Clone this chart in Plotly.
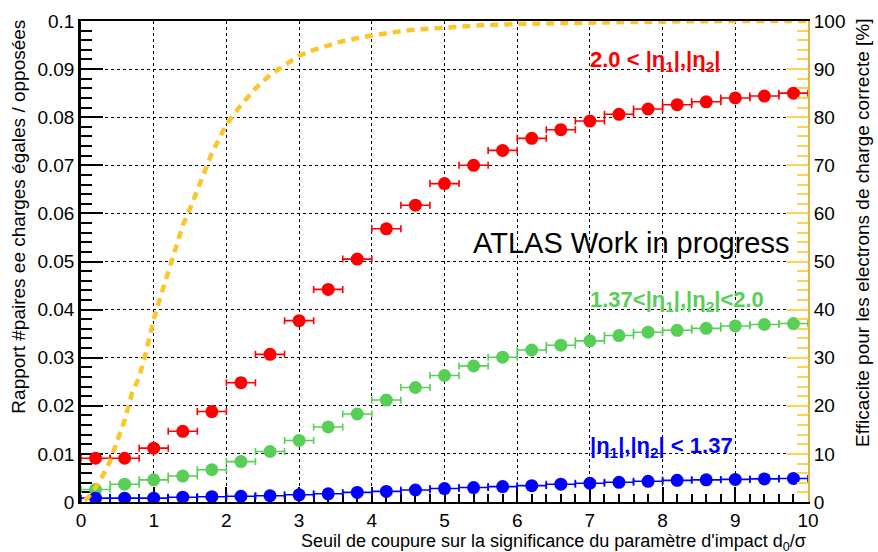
import plotly.graph_objects as go

# Cut threshold on d0/sigma (bin centres, bin half-width)
cut_centres = [0.2, 0.6, 1.0, 1.4, 1.8, 2.2, 2.6, 3.0, 3.4, 3.8, 4.2, 4.6, 5.0,
               5.4, 5.8, 6.2, 6.6, 7.0, 7.4, 7.8, 8.2, 8.6, 9.0, 9.4, 9.8]
cut_halfwidth = [0.2] * len(cut_centres)

# Same-sign / opposite-sign ee pair ratio per |eta| region
ratio_forward = [0.0091, 0.0091, 0.0112, 0.0147, 0.0188, 0.0248, 0.0307, 0.0377,
                 0.0442, 0.0505, 0.0568, 0.0617, 0.0662, 0.0700, 0.0731, 0.0756,
                 0.0774, 0.0792, 0.0806, 0.0817, 0.0826, 0.0832, 0.0840, 0.0844,
                 0.0850]
ratio_endcap = [0.0026, 0.0037, 0.0046, 0.0054, 0.0067, 0.0084, 0.0105, 0.0128,
                0.0156, 0.0183, 0.0212, 0.0238, 0.0263, 0.0283, 0.0301, 0.0316,
                0.0326, 0.0335, 0.0346, 0.0353, 0.0357, 0.0361, 0.0366, 0.0369,
                0.0371]
ratio_barrel = [0.0008, 0.0008, 0.0008, 0.0010, 0.0011, 0.0012, 0.0013, 0.0015,
                0.0017, 0.0020, 0.0022, 0.0025, 0.0028, 0.0030, 0.0032, 0.0034,
                0.0037, 0.0039, 0.0041, 0.0043, 0.0045, 0.0046, 0.0047, 0.0048,
                0.0049]

# Correct-charge electron efficiency [%] vs cut
eff_cut = [0.05, 0.1, 0.2, 0.3, 0.4, 0.5, 0.6, 0.7, 0.8, 0.9, 1.0, 1.1, 1.2, 1.3,
           1.4, 1.5, 1.6, 1.7, 1.8, 1.9, 2.0, 2.2, 2.4, 2.6, 2.8, 3.0, 3.2, 3.4,
           3.6, 3.8, 4.0, 4.5, 5.0, 5.5, 6.0, 7.0, 8.0, 9.0, 10.0]
eff_value = [0.3, 1.0, 3.0, 5.5, 8.5, 12.5, 17.0, 22.5, 26.0, 31.5, 38.0, 43.0,
             48.0, 53.0, 57.5, 61.0, 65.0, 69.0, 72.5, 75.5, 78.5, 82.5, 86.0,
             88.8, 90.8, 92.8, 94.0, 95.0, 95.8, 96.4, 97.0, 98.1, 98.7, 99.1,
             99.4, 99.7, 99.9, 100.0, 100.0]

FONT = "Liberation Sans, Arial, Helvetica, sans-serif"
RED, GREEN, BLUE, GOLD = "#ff0000", "#57cf57", "#0000ff", "#fcc52c"

fig = go.Figure()


def add_ratio(values, colour):
    fig.add_trace(go.Scatter(
        x=cut_centres, y=values, mode="markers",
        marker=dict(symbol="circle", size=13, color=colour),
        error_x=dict(type="data", array=cut_halfwidth, color=colour,
                     thickness=1.6, width=3.5),
        showlegend=False, yaxis="y"))


add_ratio(ratio_forward, RED)
add_ratio(ratio_endcap, GREEN)
add_ratio(ratio_barrel, BLUE)

fig.add_trace(go.Scatter(
    x=eff_cut, y=eff_value, mode="lines",
    line=dict(color=GOLD, width=4.5, dash="8px,6px"),
    showlegend=False, yaxis="y2"))

TICK_FONT = dict(size=19)

fig.update_layout(
    width=878, height=552,
    margin=dict(l=81, r=70, t=11, b=50),
    plot_bgcolor="white", paper_bgcolor="white",
    font=dict(family=FONT, size=19, color="black"),
    xaxis=dict(
        range=[0, 10], dtick=1, tick0=0,
        showline=True, linecolor="black", linewidth=2, mirror=True,
        ticks="inside", ticklen=15, tickwidth=1.5, tickcolor="black",
        minor=dict(dtick=0.2, ticks="inside", ticklen=8, tickcolor="black",
                   showgrid=False),
        showgrid=True, gridcolor="black", griddash="dot", gridwidth=1,
        zeroline=False, layer="below traces",
        tickfont=TICK_FONT, ticklabelstandoff=0,
    ),
    yaxis=dict(
        range=[0, 0.1], dtick=0.01, tick0=0,
        showline=True, linecolor="black", linewidth=2.5,
        ticks="inside", ticklen=22, tickwidth=1.5, tickcolor="black",
        minor=dict(dtick=0.002, ticks="inside", ticklen=11, tickcolor="black",
                   showgrid=False),
        showgrid=True, gridcolor="black", griddash="dot", gridwidth=1,
        zeroline=False, layer="below traces",
        tickfont=TICK_FONT,
    ),
    yaxis2=dict(
        range=[0, 100], dtick=10, tick0=0, overlaying="y", side="right",
        showline=True, linecolor="#e2b43a", linewidth=2,
        ticks="inside", ticklen=21, tickwidth=1.5, tickcolor="#ffd24f",
        minor=dict(dtick=2, ticks="inside", ticklen=11, tickcolor="#ffd24f",
                   showgrid=False),
        showgrid=False, zeroline=False,
        tickfont=TICK_FONT,
    ),
)

annotations = [
    # axis titles, aligned to the far end of each axis
    dict(text="Seuil de coupure sur la significance du paramètre d'impact "
              "d<sub>0</sub>/σ",
         xref="paper", yref="paper", x=1.0, y=-0.057,
         xanchor="right", yanchor="top", font=dict(size=18)),
    dict(text="Rapport #paires ee charges égales / opposées",
         xref="paper", yref="paper", x=-0.086, y=1.008, textangle=-90,
         xanchor="center", yanchor="top", font=dict(size=19)),
    dict(text="Efficacite pour les electrons de charge correcte [%]",
         xref="paper", yref="paper", x=1.074, y=1.008, textangle=-90,
         xanchor="center", yanchor="top", font=dict(size=19)),
    # labels
    dict(text="ATLAS Work in progress", xref="x", yref="y",
         x=5.36, y=0.0538, xanchor="left", yanchor="middle",
         font=dict(size=29, color="black")),
    dict(text="<b>2.0 < |η<sub>1</sub>|,|η<sub>2</sub>|</b>", xref="x", yref="y",
         x=6.98, y=0.0917, xanchor="left", yanchor="middle",
         font=dict(size=22, color=RED)),
    dict(text="<b>1.37<|η<sub>1</sub>|,|η<sub>2</sub>|<2.0</b>", xref="x", yref="y",
         x=6.98, y=0.0417, xanchor="left", yanchor="middle",
         font=dict(size=22, color=GREEN)),
    dict(text="<b>|η<sub>1</sub>|,|η<sub>2</sub>| < 1.37</b>", xref="x", yref="y",
         x=6.98, y=0.0114, xanchor="left", yanchor="middle",
         font=dict(size=22, color=BLUE)),
]
for a in annotations:
    a["showarrow"] = False
fig.update_layout(annotations=annotations)

fig.write_html("out.html")
